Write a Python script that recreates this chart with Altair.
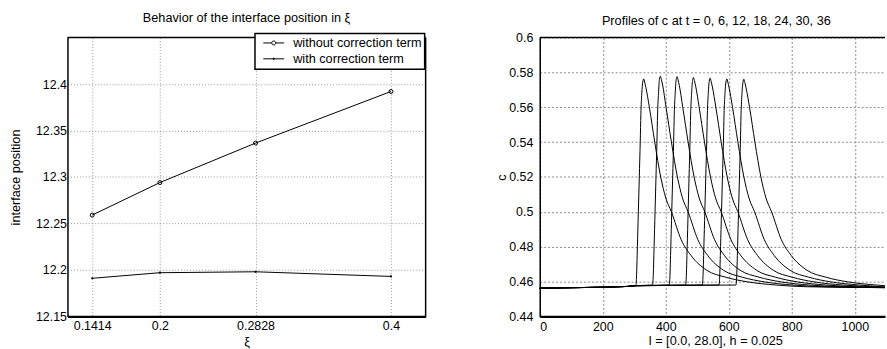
import altair as alt
import pandas as pd

FONT = "Liberation Sans"
FS = 12.8
FSL = 12.5

# ---------------- Left panel data ----------------
xi = [0.1414, 0.2, 0.2828, 0.4]
pos_without = [12.259, 12.294, 12.3365, 12.392]
pos_with = [12.191, 12.197, 12.198, 12.193]
series_names = ["without correction term", "with correction term"]
x_ticks_left = [0.1414, 0.2, 0.2828, 0.4]
y_ticks_left = [12.15, 12.2, 12.25, 12.3, 12.35, 12.4]

# ---------------- Right panel data ----------------
times = [0, 6, 12, 18, 24, 30, 36]
prof_x = [
    [0, 150, 280, 305, 307, 310, 313, 316, 319, 321, 324, 327, 330, 333, 337, 348, 365, 384, 400, 418, 449, 480, 530, 590, 660, 750, 850, 1096],
    [0, 150, 280, 300, 358, 360, 363, 366, 369, 372, 374, 377, 380, 383, 386, 390, 401, 418, 437, 453, 471, 502, 533, 583, 643, 713, 803, 903, 1096],
    [0, 150, 280, 300, 411, 413, 416, 419, 422, 425, 427, 430, 433, 436, 439, 443, 454, 471, 490, 506, 524, 555, 586, 636, 696, 766, 856, 956, 1096],
    [0, 150, 280, 300, 463, 465, 468, 471, 474, 477, 479, 482, 485, 488, 491, 495, 506, 523, 542, 558, 576, 607, 638, 688, 748, 818, 908, 1008, 1096],
    [0, 150, 280, 300, 516, 518, 521, 524, 527, 530, 532, 535, 538, 541, 544, 548, 559, 576, 595, 611, 629, 660, 691, 741, 801, 871, 961, 1061, 1096],
    [0, 150, 280, 300, 569, 571, 574, 577, 580, 583, 585, 588, 591, 594, 597, 601, 612, 629, 648, 664, 682, 713, 744, 794, 854, 924, 1014, 1096],
    [0, 150, 280, 300, 623, 625, 628, 631, 634, 637, 639, 642, 645, 648, 651, 655, 666, 683, 702, 718, 736, 767, 798, 848, 908, 978, 1068, 1096],
]
prof_c = [
    [0.4562, 0.4566, 0.4572, 0.4575, 0.4620, 0.4800, 0.5000, 0.5200, 0.5400, 0.5560, 0.5680, 0.5745, 0.5763, 0.5745, 0.5713, 0.5600, 0.5400, 0.5200, 0.5080, 0.5000, 0.4840, 0.4750, 0.4665, 0.4625, 0.4598, 0.4580, 0.4570, 0.4565],
    [0.4562, 0.4566, 0.4572, 0.4576, 0.4580, 0.4620, 0.4800, 0.5000, 0.5200, 0.5400, 0.5560, 0.5680, 0.5760, 0.5778, 0.5760, 0.5728, 0.5600, 0.5400, 0.5200, 0.5080, 0.5000, 0.4840, 0.4750, 0.4665, 0.4625, 0.4598, 0.4580, 0.4570, 0.4565],
    [0.4562, 0.4566, 0.4572, 0.4576, 0.4580, 0.4620, 0.4800, 0.5000, 0.5200, 0.5400, 0.5560, 0.5680, 0.5758, 0.5776, 0.5758, 0.5726, 0.5600, 0.5400, 0.5200, 0.5080, 0.5000, 0.4840, 0.4750, 0.4665, 0.4625, 0.4598, 0.4580, 0.4570, 0.4565],
    [0.4562, 0.4566, 0.4572, 0.4576, 0.4580, 0.4620, 0.4800, 0.5000, 0.5200, 0.5400, 0.5560, 0.5680, 0.5753, 0.5771, 0.5753, 0.5721, 0.5600, 0.5400, 0.5200, 0.5080, 0.5000, 0.4840, 0.4750, 0.4665, 0.4625, 0.4598, 0.4580, 0.4570, 0.4566],
    [0.4562, 0.4566, 0.4572, 0.4576, 0.4580, 0.4620, 0.4800, 0.5000, 0.5200, 0.5400, 0.5560, 0.5680, 0.5749, 0.5767, 0.5749, 0.5717, 0.5600, 0.5400, 0.5200, 0.5080, 0.5000, 0.4840, 0.4750, 0.4665, 0.4625, 0.4598, 0.4580, 0.4570, 0.4567],
    [0.4562, 0.4566, 0.4572, 0.4576, 0.4580, 0.4620, 0.4800, 0.5000, 0.5200, 0.5400, 0.5560, 0.5680, 0.5745, 0.5763, 0.5745, 0.5713, 0.5600, 0.5400, 0.5200, 0.5080, 0.5000, 0.4840, 0.4750, 0.4665, 0.4625, 0.4598, 0.4580, 0.4569],
    [0.4562, 0.4566, 0.4572, 0.4576, 0.4580, 0.4620, 0.4800, 0.5000, 0.5200, 0.5400, 0.5560, 0.5680, 0.5743, 0.5761, 0.5743, 0.5711, 0.5600, 0.5400, 0.5200, 0.5080, 0.5000, 0.4840, 0.4750, 0.4665, 0.4625, 0.4598, 0.4580, 0.4576],
]
x_ticks_right = [0, 200, 400, 600, 800, 1000]
y_ticks_right = [0.44, 0.46, 0.48, 0.5, 0.52, 0.54, 0.56, 0.58, 0.6]

# ---------------- Left panel ----------------
left_df = pd.DataFrame({
    "xi": xi + xi,
    "pos": pos_without + pos_with,
    "series": [series_names[0]] * len(xi) + [series_names[1]] * len(xi),
})
one = pd.DataFrame({"k": [0]})

x_l = alt.X("xi:Q", scale=alt.Scale(domain=[0.12, 0.43], nice=False, zero=False),
            axis=alt.Axis(values=x_ticks_left, format=".4~f", title="ξ", ticks=False,
                          labelPadding=3, titlePadding=4, domainWidth=2.5, labelOverlap=False))
y_l = alt.Y("pos:Q", scale=alt.Scale(domain=[12.15, 12.45], nice=False, zero=False),
            axis=alt.Axis(values=y_ticks_left, format=".2~f", title="interface position",
                          ticks=False, labelPadding=1, titlePadding=13, domainWidth=1.5,
                          labelOverlap=False))

base_l = alt.Chart(left_df)
lines_l = base_l.mark_line(color="black", strokeWidth=1).encode(x=x_l, y=y_l, detail="series:N")
pts_without = base_l.transform_filter(alt.datum.series == series_names[0]).mark_point(
    shape="circle", filled=False, size=16, color="black", strokeWidth=1, opacity=1
).encode(x="xi:Q", y="pos:Q")
pts_with = base_l.transform_filter(alt.datum.series == series_names[1]).mark_point(
    shape="circle", filled=True, size=5, color="black", opacity=1
).encode(x="xi:Q", y="pos:Q")

path_without = "M-0.2,0H1.5M2.3,0H4.0M2.3,0A0.4,0.4 0 1,1 1.5,0A0.4,0.4 0 1,1 2.3,0"
path_with = "M-0.2,0H4.0M2.05,0A0.15,0.15 0 1,1 1.75,0A0.15,0.15 0 1,1 2.05,0"
legend_layer = base_l.transform_filter("false").mark_point(
    filled=False, color="black", strokeWidth=1, opacity=1
).encode(
    x="xi:Q", y="pos:Q",
    shape=alt.Shape("series:N",
                    scale=alt.Scale(domain=series_names, range=[path_without, path_with]),
                    legend=alt.Legend(orient="none", legendX=189, legendY=-4, title=None,
                                      padding=3, rowPadding=2, symbolSize=100,
                                      symbolStrokeWidth=1, symbolStrokeColor="black",
                                      labelOffset=22.7, labelFontSize=FS, labelLimit=0,
                                      labelColor="black", labelFont=FONT,
                                      strokeColor="black",
                                      fillColor="white")),
)
frame_top_l = alt.Chart(one).mark_rule(color="black", strokeWidth=1.5).encode(y=alt.datum(12.45))
frame_right_l = alt.Chart(one).mark_rule(color="black", strokeWidth=1.5).encode(x=alt.datum(0.43))

left = alt.layer(lines_l, pts_without, pts_with, legend_layer, frame_top_l, frame_right_l).properties(
    width=361, height=281,
    title=alt.TitleParams("Behavior of the interface position in ξ", offset=12.5),
)

# ---------------- Right panel ----------------
rows = []
for t, xs, cs in zip(times, prof_x, prof_c):
    for i, (a, b) in enumerate(zip(xs, cs)):
        rows.append({"t": t, "l": a, "c": b, "i": i})
right_df = pd.DataFrame(rows)

x_r = alt.X("l:Q", scale=alt.Scale(domain=[0, 1096], nice=False, zero=False),
            axis=alt.Axis(values=x_ticks_right, format="d", title="l = [0.0, 28.0], h = 0.025",
                          ticks=False, labelPadding=4, titlePadding=1.5, titleX=177,
                          domainWidth=2.5, labelOverlap=False, grid=True,
                          gridColor="#8a8a8a", gridDash=[2, 2], gridWidth=1))
y_r = alt.Y("c:Q", scale=alt.Scale(domain=[0.44, 0.6], nice=False, zero=False),
            axis=alt.Axis(values=y_ticks_right, format=".2~f", title="c", ticks=False,
                          labelPadding=7, titlePadding=0, domainWidth=1.5,
                          labelOverlap=False, grid=True,
                          gridColor="#8a8a8a", gridDash=[2, 2], gridWidth=1))

curves = alt.Chart(right_df).mark_line(color="black", strokeWidth=1,
                                       interpolate="monotone").encode(
    x=x_r, y=y_r, detail="t:N", order="i:Q")
top_df = pd.DataFrame({"c": [y_ticks_right[-1]]})
frame_top_r = alt.Chart(top_df).mark_rule(color="black", strokeWidth=1.5).encode(y=y_r)

right = alt.layer(curves, frame_top_r).properties(
    width=348, height=281,
    title=alt.TitleParams("Profiles of c at t = 0, 6, 12, 18, 24, 30, 36", offset=3.8, dx=4),
)

chart = alt.hconcat(left, right, spacing=69).properties(
    padding={"left": 9, "top": 9.5, "right": 0, "bottom": 0},
    background="white",
).configure(font=FONT).configure_axis(
    labelFontSize=FSL, titleFontSize=FS, titleFontWeight="normal",
    labelColor="black", titleColor="black", domainColor="black",
    gridColor="#9a9a9a", gridDash=[1, 2], gridOpacity=1, gridWidth=1,
    labelFont=FONT, titleFont=FONT,
).configure_view(stroke=None).configure_title(
    fontSize=FS, fontWeight="normal", color="black", font=FONT,
).configure_legend(strokeWidth=1.5)

chart.save("out.html", embed_options={"renderer": "svg", "actions": False})
